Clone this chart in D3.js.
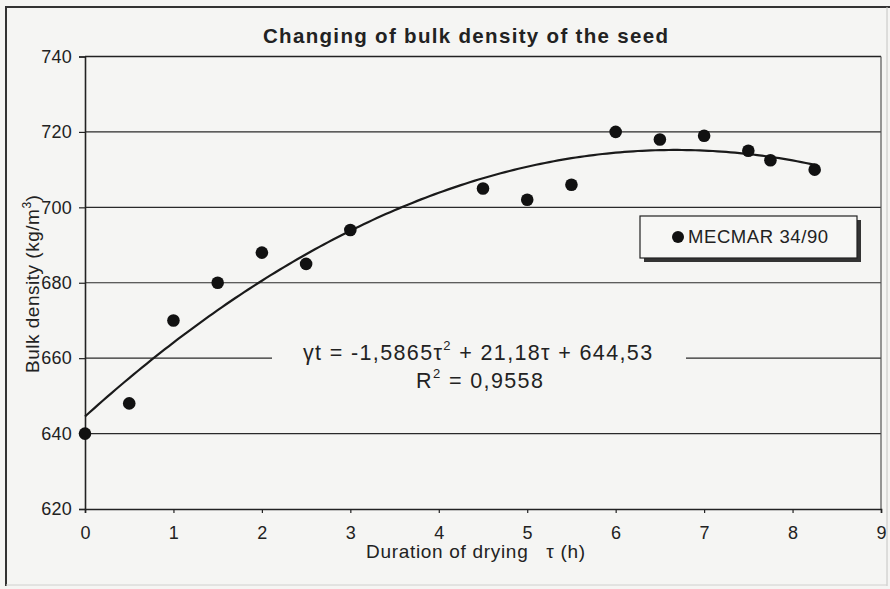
<!DOCTYPE html>
<html>
<head>
<meta charset="utf-8">
<script src="https://cdn.jsdelivr.net/npm/d3@7"></script>
<style>
  html, body { margin: 0; padding: 0; background: #f5f5f3; }
  svg { display: block; font-family: Arial, "Liberation Sans", sans-serif; }
</style>
</head>
<body>
<svg id="chart" width="890" height="589"></svg>
<script>
// Drying time (h) and measured bulk density (kg/m3) for MECMAR 34/90
const dryingHours = [0, 0.5, 1, 1.5, 2, 2.5, 3, 4.5, 5, 5.5, 6, 6.5, 7, 7.5, 7.75, 8.25];
const bulkDensity = [640, 648, 670, 680, 688, 685, 694, 705, 702, 706, 720, 718, 719, 715, 712.5, 710];

// Polynomial trend line: a*t^2 + b*t + c
const trendCoeffs = [-1.5865, 21.18, 644.53];

const xTicks = [0, 1, 2, 3, 4, 5, 6, 7, 8, 9];
const yTicks = [620, 640, 660, 680, 700, 720, 740];
const seriesName = "MECMAR 34/90";

const svg = d3.select("#chart");
const W = 890, H = 589;
const plot = { left: 85, right: 881, top: 56.5, bottom: 509 };

const x = d3.scaleLinear().domain([0, 9]).range([plot.left, plot.right]);
const y = d3.scaleLinear().domain([620, 740]).range([plot.bottom, plot.top]);

// Spread the letters of a text element so it spans the given width
function fitWidth(sel, width) {
  const node = sel.node();
  const n = node.textContent.length;
  const w = node.getBBox().width;
  if (n > 1) sel.attr("letter-spacing", ((width - w) / (n - 1)).toFixed(2));
  return sel;
}

// outer frame
svg.append("rect").attr("x", 0).attr("y", 0).attr("width", W).attr("height", H).attr("fill", "#f5f5f3");
svg.append("line").attr("x1", 6).attr("x2", 6).attr("y1", 7).attr("y2", 586).attr("stroke", "#333").attr("stroke-width", 2);
svg.append("line").attr("x1", 5).attr("x2", 890).attr("y1", 7).attr("y2", 7).attr("stroke", "#333").attr("stroke-width", 2);
svg.append("line").attr("x1", 887).attr("x2", 887).attr("y1", 7).attr("y2", 586).attr("stroke", "#c4c4c2").attr("stroke-width", 1);
svg.append("line").attr("x1", 6).attr("x2", 887).attr("y1", 585).attr("y2", 585).attr("stroke", "#d0d0ce").attr("stroke-width", 1);

// title
fitWidth(svg.append("text")
  .attr("x", 263).attr("y", 43)
  .attr("font-size", 20.5).attr("font-weight", "bold")
  .attr("fill", "#222")
  .text("Changing of bulk density of the seed"), 405);

// horizontal gridlines
svg.append("g")
  .selectAll("line")
  .data(yTicks.filter(d => d > 620 && d < 740))
  .join("line")
  .attr("x1", plot.left).attr("x2", plot.right)
  .attr("y1", d => y(d)).attr("y2", d => y(d))
  .attr("stroke", "#2a2a2a").attr("stroke-width", 1.2);

// plot border: top and right
svg.append("line").attr("x1", plot.left).attr("x2", plot.right).attr("y1", plot.top).attr("y2", plot.top)
  .attr("stroke", "#222").attr("stroke-width", 1.6);
svg.append("line").attr("x1", plot.right).attr("x2", plot.right).attr("y1", plot.top).attr("y2", plot.bottom)
  .attr("stroke", "#555").attr("stroke-width", 1.2);

// axes
const yAxis = d3.axisLeft(y).tickValues(yTicks).tickSize(6).tickPadding(7).tickFormat(d3.format("d"));
const gy = svg.append("g").attr("transform", `translate(${plot.left},0)`).call(yAxis);
const xAxis = d3.axisBottom(x).tickValues(xTicks).tickSize(4).tickPadding(13).tickFormat(d3.format("d"));
const gx = svg.append("g").attr("transform", `translate(0,${plot.bottom})`).call(xAxis);

[gx, gy].forEach(g => {
  g.select(".domain").attr("stroke", "#222").attr("stroke-width", 1.6);
  g.selectAll(".tick line").attr("stroke", "#222").attr("stroke-width", 1.2);
  g.selectAll(".tick text").attr("font-size", 18).attr("fill", "#222").attr("letter-spacing", 0.2)
    .attr("font-family", "Arial, 'Liberation Sans', sans-serif");
});

// axis titles
fitWidth(svg.append("text")
  .attr("x", 366).attr("y", 558)
  .attr("font-size", 19).attr("fill", "#222")
  .attr("xml:space", "preserve")
  .text("Duration of drying   τ (h)"), 219);

const yTitle = svg.append("text")
  .attr("transform", "translate(39,373) rotate(-90)")
  .attr("font-size", 19).attr("fill", "#222");
yTitle.append("tspan").text("Bulk density (kg/m");
yTitle.append("tspan").attr("font-size", 12).attr("dy", -8).text("3");
yTitle.append("tspan").attr("dy", 8).text(")");
fitWidth(yTitle, 178);

// equation label box (hides gridline behind it)
svg.append("rect")
  .attr("x", 272).attr("y", 336).attr("width", 414).attr("height", 60)
  .attr("fill", "#f5f5f3");

const eq = svg.append("text")
  .attr("x", 303).attr("y", 360)
  .attr("font-size", 21.5).attr("fill", "#222");
eq.append("tspan").text("γt = -1,5865τ");
eq.append("tspan").attr("font-size", 13).attr("dy", -10).text("2");
eq.append("tspan").attr("dy", 10).text(" + 21,18τ + 644,53");
fitWidth(eq, 349);

const r2 = svg.append("text")
  .attr("x", 416).attr("y", 388)
  .attr("font-size", 21.5).attr("fill", "#222");
r2.append("tspan").text("R");
r2.append("tspan").attr("font-size", 13).attr("dy", -10).text("2");
r2.append("tspan").attr("dy", 10).text(" = 0,9558");
fitWidth(r2, 127);

// trend curve
const trendX = d3.range(0, 8.25 + 1e-9, 0.05);
const trend = d3.line()
  .x(t => x(t))
  .y(t => y(trendCoeffs[0] * t * t + trendCoeffs[1] * t + trendCoeffs[2]));
svg.append("path")
  .attr("d", trend(trendX))
  .attr("fill", "none").attr("stroke", "#1a1a1a").attr("stroke-width", 2.2);

// data points
svg.append("g")
  .selectAll("circle")
  .data(dryingHours.map((t, i) => [t, bulkDensity[i]]))
  .join("circle")
  .attr("cx", d => x(d[0])).attr("cy", d => y(d[1]))
  .attr("r", 6.3).attr("fill", "#111");

// legend
const lg = svg.append("g").attr("transform", "translate(640,216)");
lg.append("rect").attr("x", 4).attr("y", 4).attr("width", 217).attr("height", 42).attr("fill", "#333");
lg.append("rect").attr("x", 0).attr("y", 0).attr("width", 217).attr("height", 42)
  .attr("fill", "#f7f7f5").attr("stroke", "#222").attr("stroke-width", 1.2);
lg.append("circle").attr("cx", 38).attr("cy", 21).attr("r", 6).attr("fill", "#111");
fitWidth(lg.append("text").attr("x", 48).attr("y", 27).attr("font-size", 18.5).attr("fill", "#222").text(seriesName), 140);
</script>
</body>
</html>
